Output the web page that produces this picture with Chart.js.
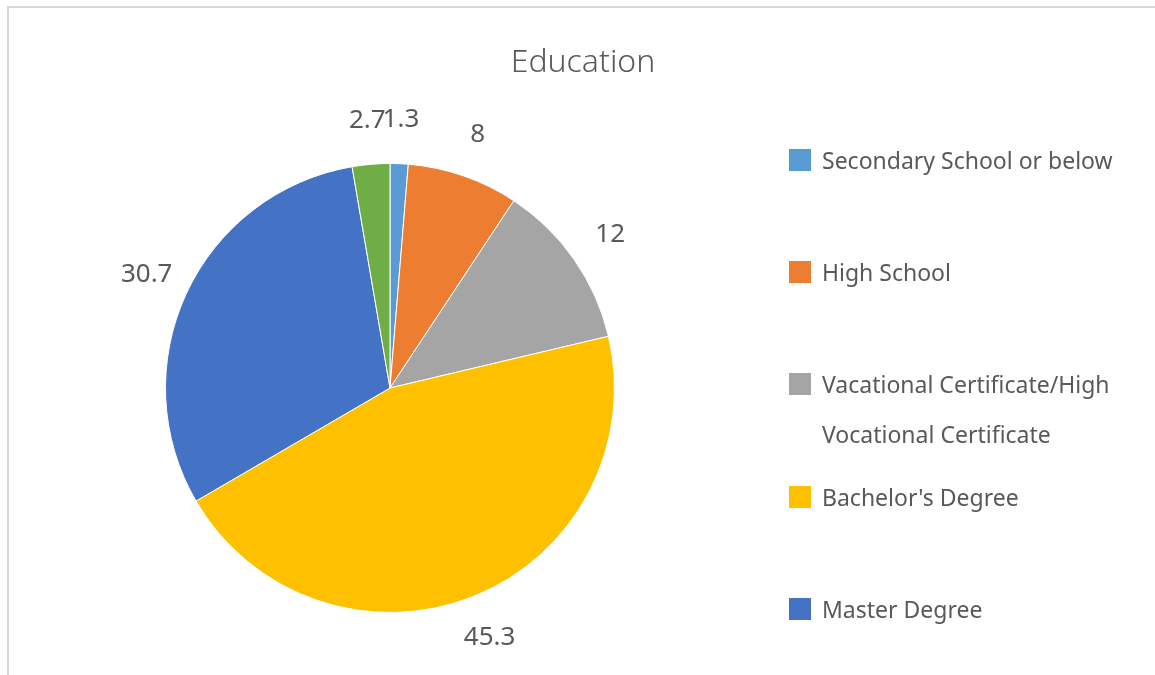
<!DOCTYPE html>
<html>
<head>
<meta charset="utf-8">
<script src="https://cdn.jsdelivr.net/npm/chart.js@4/dist/chart.umd.min.js"></script>
<style>
    html, body { margin: 0; padding: 0; background: #fff; }
    body { width: 1155px; height: 675px; position: relative; overflow: hidden; font-family: "Noto Sans", sans-serif; color: #595959; }
    .frame { position: absolute; left: 7px; top: 6px; right: 0; bottom: 0; border-top: 2px solid #d9d9d9; border-left: 2px solid #d9d9d9; }
    .title { position: absolute; left: 383px; width: 400px; top: 38px; text-align: center; font-size: 32px; font-weight: 300; }
    #chart-wrap { position: absolute; left: 0; top: 0; width: 1155px; height: 675px; }
    .legend { position: absolute; left: 789px; top: 0; }
    .legend-item { position: absolute; left: 0; white-space: nowrap; font-size: 23px; line-height: 50px; }
    .legend-box { position: absolute; left: 0; top: 14px; width: 22px; height: 22px; }
    .legend-text { position: absolute; left: 33px; top: 0; }
</style>
</head>
<body>
<div class="frame"></div>
<div id="chart-wrap"><canvas id="pie" width="1155" height="675"></canvas></div>
<div class="title" id="title"></div>
<div class="legend" id="legend"></div>
<script>
    const chartTitle = 'Education';
    const categories = [
        'Secondary School or below',
        'High School',
        'Vacational Certificate/High Vocational Certificate',
        "Bachelor's Degree",
        'Master Degree',
        'Doctoral Degree'
    ];
    // legend text as shown (the long one wraps in two lines)
    const legendLines = [
        ['Secondary School or below'],
        ['High School'],
        ['Vacational Certificate/High', 'Vocational Certificate'],
        ["Bachelor's Degree"],
        ['Master Degree']
    ];
    const values = [1.3, 8, 12, 45.3, 30.7, 2.7];
    const colors = ['#5b9bd5', '#ed7d31', '#a5a5a5', '#ffc000', '#4472c4', '#70ad47'];

    document.getElementById('title').textContent = chartTitle;

    // legend (html, so the long label can wrap like the original)
    const legendEl = document.getElementById('legend');
    const legendTops = [135, 247, 359, 472, 584];
    legendLines.forEach((lines, i) => {
        const item = document.createElement('div');
        item.className = 'legend-item';
        item.style.top = legendTops[i] + 'px';
        item.innerHTML = `
            <div class="legend-box" style="background:${colors[i]}"></div>
            <div class="legend-text">${lines.join('<br>')}</div>
        `;
        legendEl.appendChild(item);
    });

    // values written just outside each slice
    const outsideLabels = {
        id: 'outsideLabels',
        afterDatasetsDraw(chart) {
            const ctx = chart.ctx;
            const meta = chart.getDatasetMeta(0);
            ctx.save();
            ctx.font = '26px "Noto Sans", sans-serif';
            ctx.fillStyle = '#595959';
            ctx.textAlign = 'center';
            ctx.textBaseline = 'middle';
            meta.data.forEach((arc, i) => {
                const p = arc.getProps(['x', 'y', 'startAngle', 'endAngle', 'outerRadius'], true);
                const mid = (p.startAngle + p.endAngle) / 2;
                const r = p.outerRadius + 44;
                let x = p.x + Math.cos(mid) * r;
                let y = p.y + Math.sin(mid) * r;
                ctx.fillText(String(values[i]), x, y);
            });
            ctx.restore();
        }
    };

    new Chart(document.getElementById('pie'), {
        type: 'pie',
        data: {
            labels: categories,
            datasets: [{
                data: values,
                backgroundColor: colors,
                borderColor: '#ffffff',
                borderWidth: 1
            }]
        },
        options: {
            responsive: false,
            animation: false,
            layout: {
                padding: { left: 165, right: 540, top: 163, bottom: 62 }
            },
            plugins: {
                legend: { display: false },
                title: { display: false },
                tooltip: { enabled: false }
            }
        },
        plugins: [outsideLabels]
    });
</script>
</body>
</html>
